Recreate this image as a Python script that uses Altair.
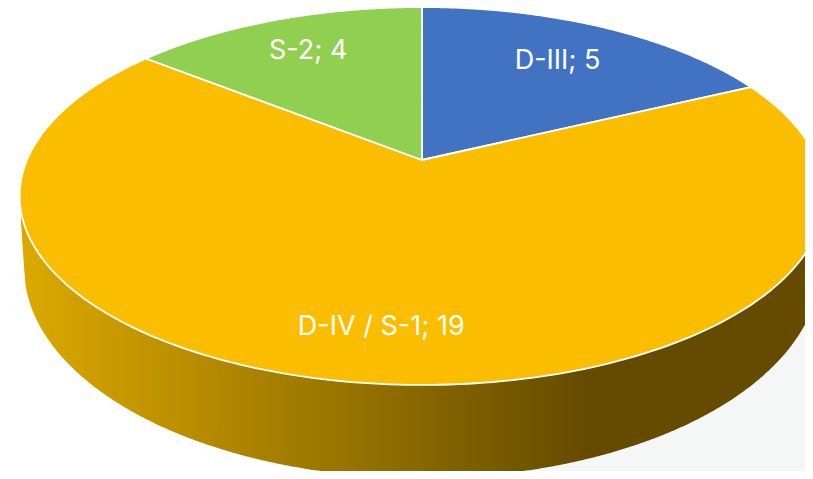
import numpy as np
import pandas as pd
import altair as alt

names = ["D-III", "D-IV / S-1", "S-2"]
values = [5, 19, 4]
colors = ["#4272C2", "#FBBD00", "#90CF50"]

# layout of the tilted disc (page pixels)
CX, CY = 422.0, 160.0
A, C, K = 395.0, 182.1, 0.1905
LOW_CX, LOW_CY, LOW_A, LOW_B = 422.0, 267.0, 398.0, 211.0
LABEL_R = [0.72, 0.785, 0.75]
X0, X1, Y0, Y1 = 8, 805, 8, 471


def project(theta, r=1.0):
    X, Y = r * np.sin(theta), r * np.cos(theta)
    w = 1 + K * Y
    return CX + A * X / w, CY - C * Y / w


rows, labels = [], []
edges = np.cumsum([0] + values) / sum(values) * 2 * np.pi
for k, name in enumerate(names):
    t = np.linspace(edges[k], edges[k + 1], 240)
    px, py = project(t)
    xs = np.r_[CX, px, CX]
    ys = np.r_[CY, py, CY]
    rows += [{"name": name, "i": i, "x": a, "y": b} for i, (a, b) in enumerate(zip(xs, ys))]
    lx, ly = project((edges[k] + edges[k + 1]) / 2, LABEL_R[k])
    labels.append({"text": f"{name}; {values[k]}", "x": float(lx), "y": float(ly)})
slices = pd.DataFrame(rows)
labels = pd.DataFrame(labels)

# side wall: between the disc and the lower rim
lx = np.linspace(LOW_CX - LOW_A, LOW_CX + LOW_A, 500)
ly = LOW_CY + LOW_B * np.sqrt(np.clip(1 - ((lx - LOW_CX) / LOW_A) ** 2, 0, 1))
wall = pd.DataFrame({"x": np.r_[21.0, lx], "y": np.r_[222.0, ly], "y2": 196.0})

shadow = pd.DataFrame({"x": [333], "x2": [X1], "y": [230], "y2": [Y1]})

xs = alt.Scale(domain=[X0, X1], nice=False, zero=False)
ys = alt.Scale(domain=[Y1, Y0], nice=False, zero=False)
X = alt.X("x:Q", scale=xs, axis=None)
Y = alt.Y("y:Q", scale=ys, axis=None)

shadow_layer = alt.Chart(shadow).mark_rect(color="#F5F7F7").encode(
    x=X, x2="x2:Q", y=Y, y2="y2:Q"
)
wall_layer = alt.Chart(wall).mark_area(
    clip=True,
    color=alt.Gradient(
        gradient="linear",
        x1=0, x2=1, y1=0, y2=0,
        stops=[
            alt.GradientStop(color="#DCA900", offset=0),
            alt.GradientStop(color="#644B00", offset=0.71),
            alt.GradientStop(color="#644B00", offset=1),
        ],
    ),
).encode(x=X, y=Y, y2="y2:Q")

slice_layer = alt.Chart(slices).mark_line(
    clip=True, stroke="white", strokeWidth=1.8, strokeJoin="round"
).encode(
    x=X, y=Y,
    order=alt.Order("i:Q"),
    detail="name:N",
    fill=alt.Fill("name:N", scale=alt.Scale(domain=names, range=colors), legend=None),
)

text_layer = alt.Chart(labels).mark_text(
    font="Inter", fontSize=27, color="white", align="center", baseline="middle"
).encode(x=X, y=Y, text="text:N")

chart = (
    alt.layer(shadow_layer, wall_layer, slice_layer, text_layer)
    .properties(
        width=X1 - X0, height=Y1 - Y0,
        padding=0,
        autosize=alt.AutoSizeParams(type="none"),
        background="white",
    )
    .configure_view(stroke=None)
)
chart.save("out.html", embed_options={"renderer": "svg", "actions": False})
